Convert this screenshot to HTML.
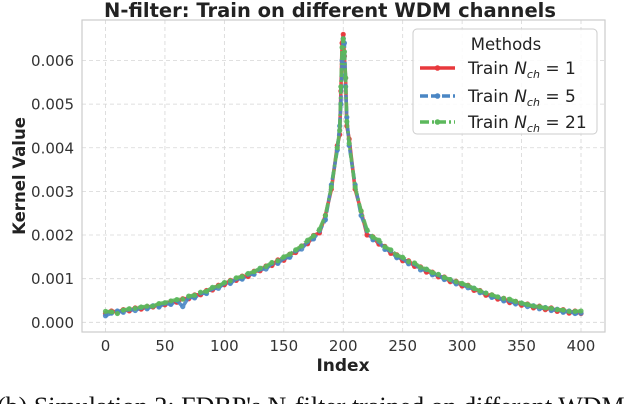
<!DOCTYPE html>
<html><head><meta charset="utf-8">
<style>
html,body{margin:0;padding:0;background:#fff;width:640px;height:404px;overflow:hidden}
svg{display:block}
</style></head>
<body>
<svg id="chart" width="640" height="404" xmlns="http://www.w3.org/2000/svg" font-family="'DejaVu Sans', 'Liberation Sans', sans-serif">
</svg>
<script>
const indices = [0,5,10,15,20,25,30,35,40,45,50,55,60,65,70,75,80,85,90,95,100,105,110,115,120,125,130,135,140,145,150,155,160,165,170,175,180,185,190,195,
197,198,199,200,201,202,203,
205,210,215,220,225,230,235,240,245,250,255,260,265,270,275,280,285,290,295,300,305,310,315,320,325,330,335,340,345,350,355,360,365,370,375,380,385,390,395,400];
// values in units of 1e-4
const redVals = [2.0,2.6,2.3,2.9,2.6,3.3,3.0,3.6,3.5,4.1,4.0,4.8,4.6,5.4,5.4,6.3,6.3,7.3,7.4,8.5,8.6,9.6,9.6,10.6,10.5,11.7,11.8,12.9,13.0,14.3,14.2,15.6,16.0,17.5,18.0,19.9,20.5,24.5,30.5,40.5,
43,53,64,66,61,56,45,
42,30.5,25.5,20,19.6,17.9,17.4,15.8,15.5,14.1,14.1,12.8,12.7,11.5,11.5,10.4,10.4,9.3,9.4,8.3,8.5,7.3,7.3,6.2,6.3,5.3,5.5,4.5,4.8,3.9,4.2,3.3,3.7,2.9,3.3,2.5,2.9,2.1,2.6,2.0];
const blueVals = [1.5,2.1,2.6,2.3,3.0,2.7,3.4,3.1,3.8,3.5,4.4,4.1,5.0,3.6,5.8,5.6,6.7,6.6,7.8,7.8,9.0,8.9,10.0,9.9,11.0,11.0,12.2,12.2,13.5,13.5,14.7,14.9,16.4,16.8,18.5,19.1,21.0,23.5,31.5,39.5,
45,50,60,65,64,54,47,
40.5,31.5,24.5,21,18.9,18.5,16.7,16.4,14.8,14.7,13.4,13.4,12.0,12.1,10.9,10.9,9.8,9.8,8.8,8.8,7.9,7.8,6.8,6.7,5.7,5.8,4.9,5.0,4.2,4.4,3.6,3.8,3.1,3.4,2.7,3.0,2.3,2.6,2.0,2.1];
const greenVals = [2.5,2.4,2.0,2.8,3.1,3.2,3.5,3.7,3.7,4.3,4.5,4.9,5.2,5.3,6.0,6.2,6.9,7.1,8.0,8.3,9.1,9.5,10.2,10.5,11.2,11.6,12.4,12.8,13.7,14.1,15.0,15.6,16.6,17.5,18.8,19.8,21.3,24.5,31,40,
44,54,63,65,62,56,46,
41,31,25.5,21.2,19.5,18.8,17.3,16.6,15.4,14.9,13.9,13.6,12.6,12.2,11.4,11.0,10.3,9.8,9.3,8.9,8.4,7.8,7.2,6.7,6.3,5.8,5.5,5.3,4.8,4.4,4.1,3.7,3.6,3.3,3.2,2.9,2.8,2.5,2.5,2.6];
const xTicks = [0,50,100,150,200,250,300,350,400];
const yTicks = [0,10,20,30,40,50,60];
const yTickLabels = ["0.000","0.001","0.002","0.003","0.004","0.005","0.006"];
const legendSubs = ["1","5","21"];

const svg = document.getElementById('chart');
const NS = 'http://www.w3.org/2000/svg';
const PL=82, PR=605, PT=20, PB=332;
function xs(v){ return 105.5 + v*(581-105.5)/400; }
function ys(v){ return 322.3 - v*(322.3-60.5)/60; }
function mk(tag, attrs, parent){ const e=document.createElementNS(NS,tag); for(const k in attrs) e.setAttribute(k,attrs[k]); (parent||svg).appendChild(e); return e; }

let t = mk('text',{x:330,y:17,'text-anchor':'middle','font-size':'19.5','font-weight':'bold',fill:'#222'});


t.textContent='N-filter: Train on different WDM channels';

const grid = mk('g',{});


xTicks.forEach(v=>{ mk('line',{x1:xs(v),x2:xs(v),y1:PT,y2:PB,stroke:'#d6d6d6','stroke-dasharray':'4,3','stroke-width':0.8},grid); });
yTicks.forEach(v=>{ mk('line',{x1:PL,x2:PR,y1:ys(v),y2:ys(v),stroke:'#d6d6d6','stroke-dasharray':'4,3','stroke-width':0.8},grid); });
const frame = mk('rect',{x:PL,y:PT,width:PR-PL,height:PB-PT,fill:'none',stroke:'#cccccc','stroke-width':1.2});



const xt = mk('g',{'font-size':'15',fill:'#333','text-anchor':'middle'});


xTicks.forEach(v=>{ const e=mk('text',{x:xs(v),y:351},xt); e.textContent=String(v); });
const yt = mk('g',{'font-size':'15',fill:'#333','text-anchor':'end'});


yTicks.forEach((v,i)=>{ const e=mk('text',{x:74,y:ys(v)+5.5},yt); e.textContent=yTickLabels[i]; });

let xl = mk('text',{x:343,y:371,'text-anchor':'middle','font-size':'17','font-weight':'bold',fill:'#222'});


xl.textContent='Index';
let yl = mk('text',{x:0,y:0,transform:'translate(25,176) rotate(-90)','text-anchor':'middle','font-size':'16.5','font-weight':'bold',fill:'#222'});


yl.textContent='Kernel Value';

const colors=['#e8383c','#4a86c4','#5cb85c'];
const dashes=['none','8,3','9,3,2,3'];
[redVals,blueVals,greenVals].forEach((vals,si)=>{
  const g = mk('g',{});
  
  
  const d = vals.map((v,i)=>(i?'L':'M')+xs(indices[i]).toFixed(1)+','+ys(v).toFixed(1)).join(' ');
  const p = mk('path',{d:d,fill:'none',stroke:colors[si],'stroke-width':3.6,'stroke-dasharray':dashes[si],'stroke-linejoin':'round','stroke-opacity':0.9},g);
  
  
  vals.forEach((v,i)=>{
    const c = mk('circle',{cx:xs(indices[i]),cy:ys(v),r:2.6,fill:colors[si],'fill-opacity':0.9},g);
    
    
  });
});

const lg = mk('g',{});


mk('rect',{x:413,y:29,width:184,height:105,rx:4,fill:'#fff','fill-opacity':0.85,stroke:'#cccccc'},lg);
const lt = mk('text',{x:506,y:50,'text-anchor':'middle','font-size':'16.5',fill:'#222'},lg);
lt.textContent='Methods';
[68,96,122].forEach((yy,i)=>{
  const e = mk('g',{},lg);
  
  
  mk('line',{x1:420,x2:455,y1:yy,y2:yy,stroke:colors[i],'stroke-width':3.6,'stroke-dasharray':dashes[i]},e);
  mk('circle',{cx:437.5,cy:yy,r:2.8,fill:colors[i]},e);
  const tx = mk('text',{x:468,y:yy+6,'font-size':'17',fill:'#222'},e);
  tx.innerHTML='Train <tspan font-style="italic">N</tspan><tspan font-style="italic" font-size="11" dy="4">ch</tspan><tspan dy="-4"> = '+legendSubs[i]+'</tspan>';
});

const cap = mk('text',{x:-3,y:415,'font-size':'26','font-family':"'Liberation Serif', serif",fill:'#111'});


cap.textContent="(b) Simulation 2: FDBP's N-filter trained on different WDM";
</script>
</body></html>
